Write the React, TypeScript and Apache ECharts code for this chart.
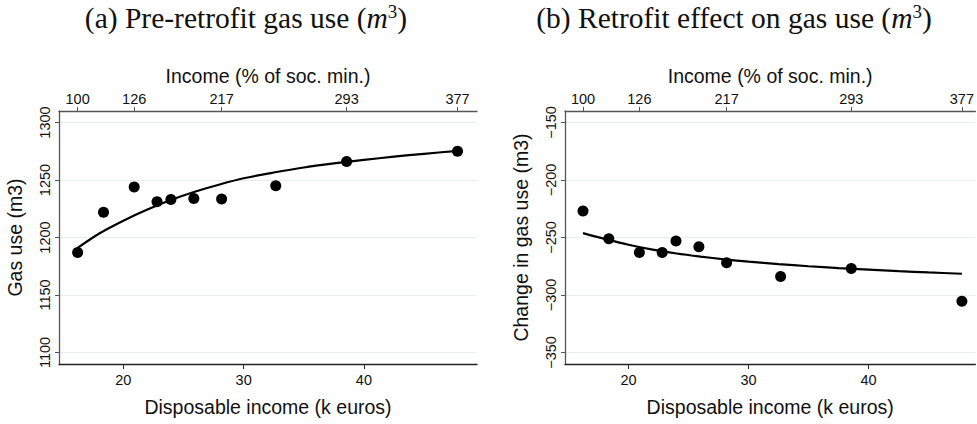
import React, { useEffect, useRef } from "react";
import * as echarts from "echarts";

// Disposable income (k euros) of the ten income groups
const incomeK = [16.2, 18.35, 20.9, 22.8, 23.95, 25.86, 28.17, 32.67, 38.56, 47.78];
// (a) Pre-retrofit gas use (m3)
const preGas = [1187, 1222, 1244, 1231, 1233, 1234, 1233.5, 1245, 1266, 1275];
// (b) Retrofit effect on gas use (m3)
const effectGas = [-227, -251, -263, -263, -253, -258, -272, -284, -277, -305.5];

// Fitted curves
const fitX = [16.2, 18, 20, 22, 24, 26, 28, 30, 32.5, 35, 37.5, 40, 42.5, 45, 47.78];
const preFit = [1191, 1203.5, 1214.6, 1224.3, 1232.8, 1240, 1246.1, 1251.5, 1256.5, 1260.9, 1264.4, 1267.5, 1270.3, 1272.8, 1275.4];
const effectFit = [-246.2, -251.2, -256.3, -260.6, -263.9, -266.6, -269, -271, -273.1, -275, -276.6, -277.9, -279.2, -280.4, -281.5];

// Top axis: income as % of social minimum
const socMinPos = [16.2, 20.9, 28.17, 38.56, 47.78];
const socMinLabels = ["100", "126", "217", "293", "377"];

const bottomTicks = [20, 30, 40];
const leftTicks = [1100, 1150, 1200, 1250, 1300];
const rightTicks = [-350, -300, -250, -200, -150];

const titleA = "(a) Pre-retrofit gas use";
const titleB = "(b) Retrofit effect on gas use";

const SANS = "Liberation Sans, Arial, sans-serif";
const SERIF = "Liberation Serif, DejaVu Serif, serif";
const AX = "#555";
const GRIDC = "#e6eeef";

function fmtMinus(v: number) {
  return String(v).replace("-", "\u2212");
}

export default function App() {
  const ref = useRef<HTMLDivElement>(null);
  useEffect(() => {
    if (!ref.current) return;
    const chart = echarts.init(ref.current, undefined, { renderer: "svg" });

    const titleRich = {
      t: { fontFamily: SERIF, fontSize: 29.5, fontWeight: "normal", color: "#111" },
      m: { fontFamily: SERIF, fontSize: 29.5, fontWeight: "normal", fontStyle: "italic", color: "#111" },
      sup: {
        fontFamily: SERIF,
        fontSize: 19,
        fontWeight: "normal",
        color: "#111",
        verticalAlign: "top",
        padding: [0, 0, 12, 0],
      },
    };

    const bottomAxis = (gi: number, min: number, max: number) => ({
      type: "value",
      gridIndex: gi,
      position: "bottom",
      min,
      max,
      name: "Disposable income (k euros)",
      nameLocation: "middle",
      nameGap: 33,
      nameTextStyle: { fontFamily: SANS, fontSize: 19.5, color: "#111" },
      axisLine: { show: true, onZero: false, lineStyle: { color: "#222", width: 1.3 } },
      axisTick: { show: true, length: 5, customValues: bottomTicks, lineStyle: { color: "#222" } },
      axisLabel: { customValues: bottomTicks, fontFamily: SANS, fontSize: 14.5, color: "#111", margin: 8 },
      splitLine: { show: false },
    });

    const topAxis = (gi: number, min: number, max: number) => ({
      type: "value",
      gridIndex: gi,
      position: "top",
      min,
      max,
      name: "Income (% of soc. min.)",
      nameLocation: "middle",
      nameGap: 19,
      nameTextStyle: { fontFamily: SANS, fontSize: 19.5, color: "#111" },
      axisLine: { show: true, onZero: false, lineStyle: { color: AX, width: 1.3 } },
      axisTick: { show: true, length: 4, customValues: socMinPos, lineStyle: { color: AX } },
      axisLabel: {
        customValues: socMinPos,
        fontFamily: SANS,
        fontSize: 14.5,
        color: "#111",
        margin: 5,
        formatter: (v: number) => {
          let best = 0;
          socMinPos.forEach((p, i) => {
            if (Math.abs(p - v) < Math.abs(socMinPos[best] - v)) best = i;
          });
          return socMinLabels[best];
        },
      },
      splitLine: { show: false },
    });

    const yAxis = (gi: number, min: number, max: number, ticks: number[], name: string) => ({
      type: "value",
      gridIndex: gi,
      min,
      max,
      name,
      nameLocation: "middle",
      nameGap: 34,
      nameTextStyle: { fontFamily: SANS, fontSize: 19.5, color: "#111" },
      axisLine: { show: true, lineStyle: { color: AX, width: 1.3 } },
      axisTick: { show: true, length: 4, customValues: ticks, lineStyle: { color: AX } },
      axisLabel: {
        customValues: ticks,
        rotate: 90,
        fontFamily: SANS,
        fontSize: 14.5,
        color: "#111",
        margin: 7,
        formatter: (v: number) => fmtMinus(v),
      },
      splitLine: { show: true, lineStyle: { color: GRIDC, width: 1 } },
    });

    chart.setOption({
      animation: false,
      backgroundColor: "#fff",
      title: [
        {
          text: `{t|${titleA} (}{m|m}{sup|3}{t|)}`,
          left: 241,
          top: -3,
          textAlign: "center",
          textStyle: { fontWeight: "normal", rich: titleRich },
        },
        {
          text: `{t|${titleB} (}{m|m}{sup|3}{t|)}`,
          left: 729,
          top: -3,
          textAlign: "center",
          textStyle: { fontWeight: "normal", rich: titleRich },
        },
      ],
      grid: [
        { left: 59, right: 500, top: 111, bottom: 60 },
        { left: 565, right: 0, top: 111, bottom: 60 },
      ],
      xAxis: [
        bottomAxis(0, 14.65, 49.4),
        topAxis(0, 14.65, 49.4),
        bottomAxis(1, 14.7, 48.9),
        topAxis(1, 14.7, 48.9),
      ],
      yAxis: [
        yAxis(0, 1090, 1310, leftTicks, "Gas use (m3)"),
        yAxis(1, -360, -140, rightTicks, "Change in gas use (m3)"),
      ],
      series: [
        {
          type: "line",
          xAxisIndex: 0,
          yAxisIndex: 0,
          data: fitX.map((x, i) => [x, preFit[i]]),
          smooth: 0.3,
          showSymbol: false,
          lineStyle: { color: "#000", width: 2.2 },
          z: 2,
        },
        {
          type: "scatter",
          xAxisIndex: 0,
          yAxisIndex: 0,
          data: incomeK.map((x, i) => [x, preGas[i]]),
          symbolSize: 11,
          itemStyle: { color: "#000", opacity: 1 },
          z: 3,
        },
        {
          type: "line",
          xAxisIndex: 2,
          yAxisIndex: 1,
          data: fitX.map((x, i) => [x, effectFit[i]]),
          smooth: 0.3,
          showSymbol: false,
          lineStyle: { color: "#000", width: 2.2 },
          z: 2,
        },
        {
          type: "scatter",
          xAxisIndex: 2,
          yAxisIndex: 1,
          data: incomeK.map((x, i) => [x, effectGas[i]]),
          symbolSize: 11,
          itemStyle: { color: "#000", opacity: 1 },
          z: 3,
        },
      ],
    });
    return () => chart.dispose();
  }, []);

  return <div ref={ref} style={{ width: 977, height: 424, position: "absolute", left: 0, top: 0 }} />;
}
